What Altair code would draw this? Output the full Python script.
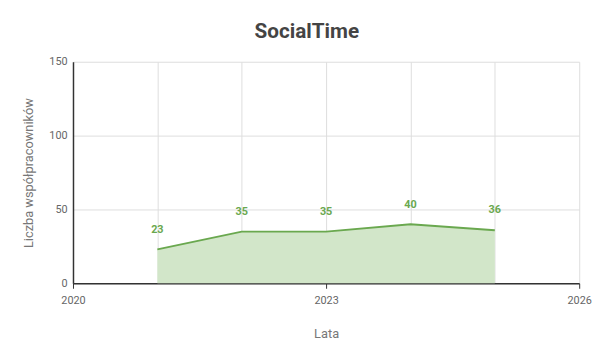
import altair as alt
import pandas as pd

years = [2021, 2022, 2023, 2024, 2025]
values = [23, 35, 35, 40, 36]
grid_years = [2020, 2021, 2022, 2023, 2024, 2025, 2026]
shown_years = [2020, 2023, 2026]

df = pd.DataFrame({"rok": years, "liczba": values})

FONT = "Roboto"
GREEN = "#6aa84f"
FILL = "#d2e6c9"

x = alt.X("rok:Q", title="Lata",
          scale=alt.Scale(domain=[2020, 2026], nice=False, zero=False),
          axis=alt.Axis(values=grid_years, format="d",
                        labelExpr="(datum.value == 2020 || datum.value == 2023 || datum.value == 2026) ? datum.label : ''",
                        tickOpacity={"condition": {"test": "datum.value == 2020 || datum.value == 2023 || datum.value == 2026", "value": 1}, "value": 0},
                        tickSize=5, tickColor="#333", domainColor="#333", domainWidth=1.5,
                        gridColor="#dddddd", labelPadding=6, titlePadding=23,
                        labelColor="#666", labelFontSize=11, titleColor="#777",
                        titleFontSize=13, titleFontWeight="normal", labelFlush=False))
y = alt.Y("liczba:Q", title="Liczba współpracowników",
          scale=alt.Scale(domain=[0, 150], nice=False),
          axis=alt.Axis(values=[0, 50, 100, 150], ticks=False, labelPadding=6,
                        domainColor="#333", domainWidth=1.5, gridColor="#dddddd",
                        labelColor="#666", labelFontSize=11, titleColor="#777",
                        titleFontSize=13, titleFontWeight="normal", titlePadding=14))

base = alt.Chart(df)
area = base.mark_area(color=FILL, opacity=1).encode(x=x, y=y)
line = base.mark_line(color=GREEN, strokeWidth=2).encode(x="rok:Q", y="liczba:Q")
text = base.mark_text(color=GREEN, fontWeight="bold", fontSize=11, dy=-20, font=FONT).encode(
    x="rok:Q", y="liczba:Q", text="liczba:Q")

chart = alt.layer(area, line, text).properties(
    width=514, height=225,
    title=alt.TitleParams("SocialTime", fontSize=21, fontWeight="bold", color="#444",
                          font=FONT, offset=14, anchor="middle", frame="bounds"),
    padding={"left": 14, "top": 11, "right": 0, "bottom": 0},
).configure_axis(labelFont=FONT, titleFont=FONT, labelColor="#666").configure_view(stroke=None)

chart.save("out.html", embed_options={"renderer": "svg", "actions": False})
